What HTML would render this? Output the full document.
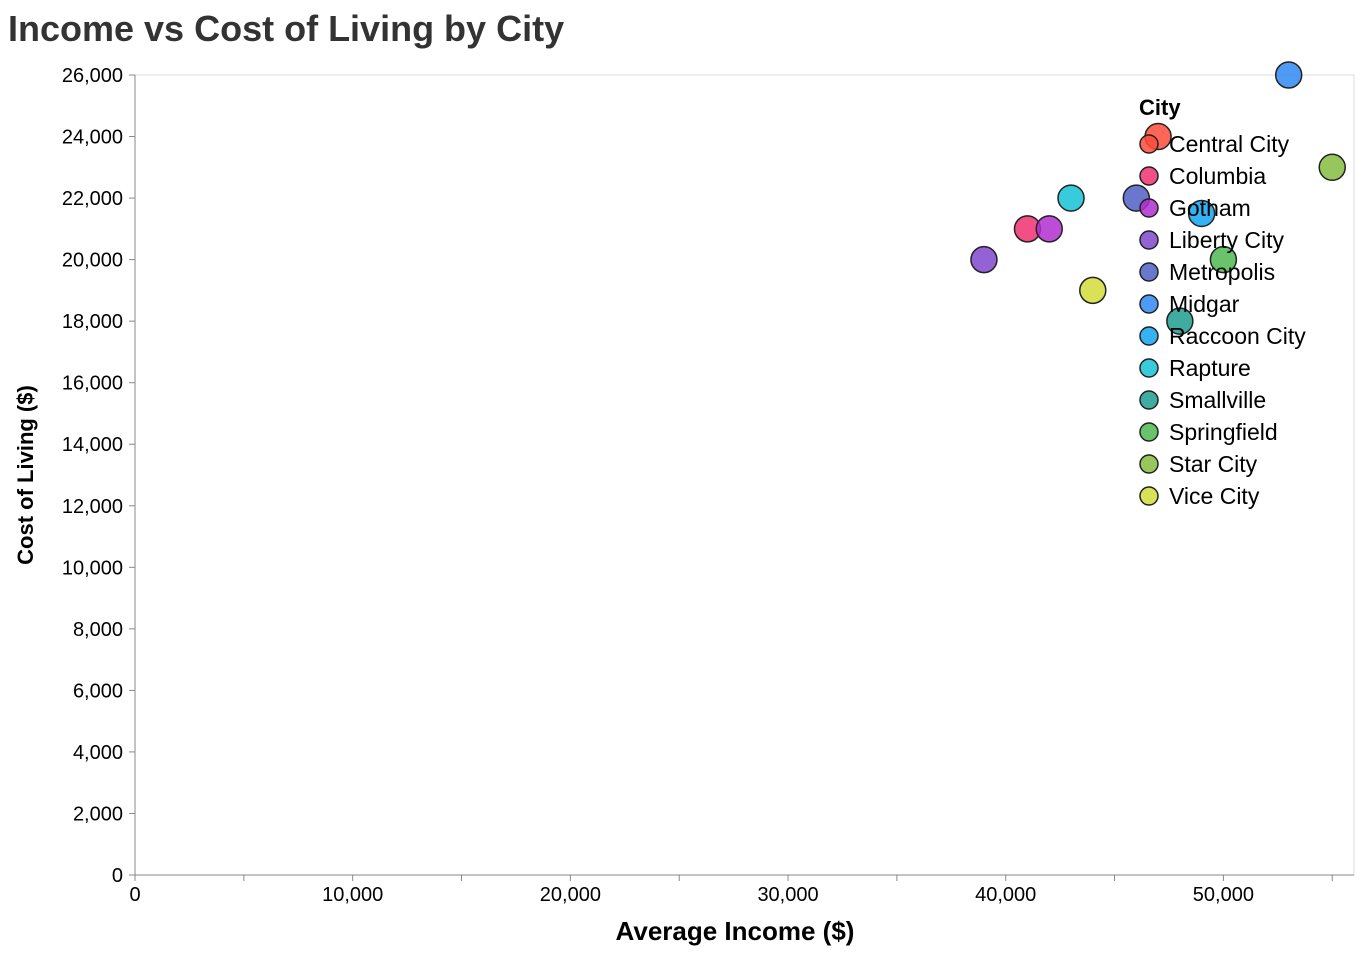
<!DOCTYPE html>
<html><head><meta charset="utf-8"><style>
body{margin:0;background:#fff;font-family:"Liberation Sans",Arial,sans-serif;}
</style></head><body>
<svg id="chart" width="1362" height="956" xmlns="http://www.w3.org/2000/svg" style="font-family:'Liberation Sans',Arial,sans-serif">
<text x="8" y="41" font-size="36" font-weight="bold" fill="#333">Income vs Cost of Living by City</text>
<g id="axes"></g><g id="marks"></g><g id="legend"></g>
</svg>
<script>
const cities=["Central City","Columbia","Gotham","Liberty City","Metropolis","Midgar","Raccoon City","Rapture","Smallville","Springfield","Star City","Vice City"];
const incomes=[47000,41000,42000,39000,46000,53000,49000,43000,48000,50000,55000,44000];
const costs=[24000,21000,21000,20000,22000,26000,21500,22000,18000,20000,23000,19000];
const colors=["#ff4b3a","#ef3070","#b02ed0","#8046cc","#4f5fc4","#2f88f2","#12a4ee","#15c2d6","#1f9c8e","#4fb851","#85bd3f","#d2dd3a"];
const xTicks=[0,10000,20000,30000,40000,50000];
const yTicks=[0,2000,4000,6000,8000,10000,12000,14000,16000,18000,20000,22000,24000,26000];
const XMAX=56000;
const X0=135,X1=1354,Y0=875,Y1=75;
const xs=v=>X0+(v/XMAX)*(X1-X0);
const ys=v=>Y0-(v/26000)*(Y0-Y1);
const NS="http://www.w3.org/2000/svg";
function mk(t,a,p,txt){const e=document.createElementNS(NS,t);for(const k in a)e.setAttribute(k,a[k]);if(txt!==undefined)e.textContent=txt;p.appendChild(e);return e;}
const ax=document.getElementById('axes');
const frame=mk('rect',{x:X0,y:Y1,width:X1-X0,height:Y0-Y1,fill:'none',stroke:'#ddd'},ax);


mk('line',{x1:X0,y1:Y0,x2:X1,y2:Y0,stroke:'#888'},ax);
mk('line',{x1:X0,y1:Y0,x2:X0,y2:Y1,stroke:'#888'},ax);
for(let v=0;v<=55000;v+=5000){mk('line',{x1:xs(v),y1:Y0,x2:xs(v),y2:Y0+6,stroke:'#888'},ax);}
xTicks.forEach(v=>{const t=mk('text',{x:xs(v),y:Y0+26,'text-anchor':'middle','font-size':20,fill:'#000'},ax,v.toLocaleString('en-US'));

});
yTicks.forEach(v=>{mk('line',{x1:X0-6,y1:ys(v),x2:X0,y2:ys(v),stroke:'#888'},ax);
const t=mk('text',{x:X0-12,y:ys(v)+7,'text-anchor':'end','font-size':20,fill:'#000'},ax,v.toLocaleString('en-US'));

});
const xt=mk('text',{x:735,y:940,'text-anchor':'middle','font-size':26,'font-weight':'bold',fill:'#000'},ax,'Average Income ($)');


const yt=mk('text',{x:0,y:0,'text-anchor':'middle','font-size':22,'font-weight':'bold',fill:'#000',transform:`translate(33,${(Y0+Y1)/2}) rotate(-90)`},ax,'Cost of Living ($)');


const mg=document.getElementById('marks');
cities.forEach((c,i)=>{const p=mk('circle',{cx:xs(incomes[i]),cy:ys(costs[i]),r:13,fill:colors[i],'fill-opacity':0.85,stroke:'#222','stroke-width':1.5},mg);

});
const lg=document.getElementById('legend');
const lt=mk('text',{x:1139,y:115,'font-size':22,'font-weight':'bold',fill:'#000'},lg,'City');


cities.forEach((c,i)=>{const y=144+i*32;
const s=mk('circle',{cx:1149,cy:y,r:9,fill:colors[i],'fill-opacity':0.85,stroke:'#222','stroke-width':1.5},lg);


const t=mk('text',{x:1169,y:y+8,'font-size':23,fill:'#000'},lg,c);

});
</script>
</body></html>
